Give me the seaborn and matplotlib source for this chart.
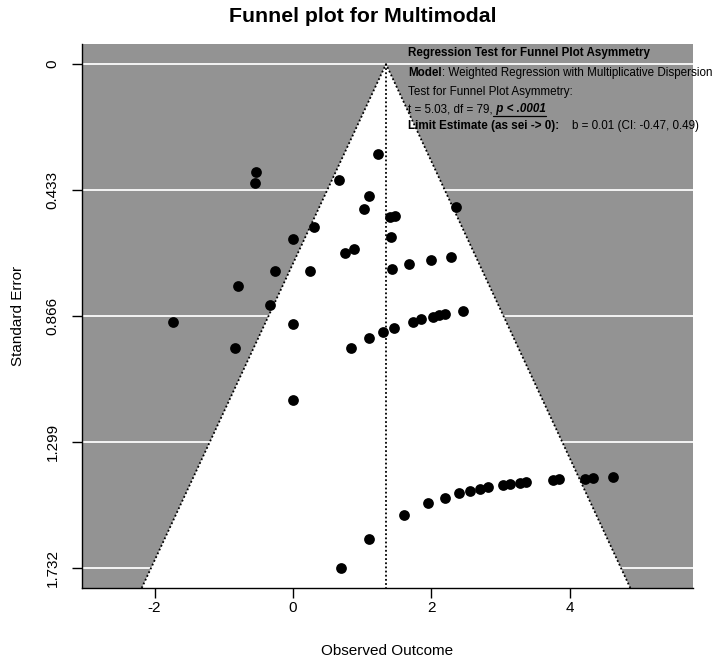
import matplotlib
matplotlib.use("Agg")
import matplotlib.pyplot as plt
import seaborn as sns
import pandas as pd

# ---- data ----
effect = [1.233, -0.530, -0.553, 0.665, 1.094, 1.030, 1.402, 1.470, 2.351, 0.308,
          -0.004, 1.416, 0.756, 0.881, -0.256, 0.250, 1.431, 1.681, 1.999, 2.279,
          -0.790, -0.337, -1.734, -0.004, -0.842, -0.004,
          0.842, 1.094, 1.296, 1.464, 1.730, 1.845, 2.027, 2.105, 2.192, 2.452,
          1.604, 1.947, 2.192, 2.395, 2.558, 2.698, 2.822, 3.035, 3.132, 3.285,
          3.363, 3.753, 3.840, 4.224, 4.331, 4.624, 1.094, 0.689]
sei = [0.309, 0.372, 0.408, 0.400, 0.454, 0.497, 0.526, 0.522, 0.493, 0.561,
       0.602, 0.596, 0.648, 0.634, 0.712, 0.712, 0.703, 0.688, 0.674, 0.663,
       0.763, 0.828, 0.885, 0.893, 0.976, 1.155,
       0.976, 0.943, 0.921, 0.906, 0.885, 0.878, 0.868, 0.864, 0.859, 0.850,
       1.550, 1.510, 1.491, 1.476, 1.467, 1.460, 1.455, 1.448, 1.444, 1.440,
       1.438, 1.430, 1.428, 1.425, 1.424, 1.421, 1.631, 1.731]
center_estimate = 1.344
ytick_values = [0, 0.433, 0.866, 1.299, 1.732]
ytick_labels = ["0", "0.433", "0.866", "1.299", "1.732"]
xtick_values = [-2, 0, 2, 4]
xtick_labels = ["-2", "0", "2", "4"]
title = "Funnel plot for Multimodal"
xlabel = "Observed Outcome"
ylabel = "Standard Error"
annot_lines = [
    [("Regression Test for Funnel Plot Asymmetry", "bold", "normal", False)],
    [("Model", "bold", "normal", False), (": Weighted Regression with Multiplicative Dispersion", "normal", "normal", False)],
    [("Test for Funnel Plot Asymmetry:", "normal", "normal", False)],
    [("t = 5.03, df = 79,", "normal", "normal", False), (" p < .0001", "bold", "italic", True)],
    [("Limit Estimate (as sei -> 0):", "bold", "normal", False), ("    b = 0.01 (CI: -0.47, 0.49)", "normal", "normal", False)],
]

df = pd.DataFrame({"effect": effect, "sei": sei})

sns.set_theme(style="white")
plt.rcParams['font.family'] = ['Liberation Sans', 'DejaVu Sans']
plt.rcParams['text.color'] = 'black'
plt.rcParams['axes.labelcolor'] = 'black'
plt.rcParams['xtick.color'] = 'black'
plt.rcParams['ytick.color'] = 'black'

W, H = 714, 671
fig = plt.figure(figsize=(W / 100, H / 100), dpi=100)
left, right, top, bottom = 82, 693, 44, 588
ax = fig.add_axes([left / W, 1 - bottom / H, (right - left) / W, (bottom - top) / H])
grey = "#939393"
ax.set_facecolor(grey)
xlim = (-3.049, 5.78)
ylim = (1.801, -0.069)
ax.set_xlim(xlim)
ax.set_ylim(ylim)

for yv in ytick_values:
    ax.axhline(yv, color="#f4f4f4", lw=1.4, zorder=1)

ybot = ylim[0]
px = [center_estimate - 1.96 * ybot, center_estimate, center_estimate + 1.96 * ybot]
py = [ybot, 0, ybot]
ax.fill(px, py, color="white", zorder=2, lw=0)
ax.plot(px, py, ls=(0, (1.0, 1.3)), color="black", lw=1.3, zorder=3)
ax.plot([center_estimate, center_estimate], [0, ybot], ls=(0, (1.0, 1.3)), color="black", lw=1.3, zorder=3)

sns.scatterplot(data=df, x="effect", y="sei", color="black", s=60, edgecolor="black",
                linewidth=0, zorder=4, ax=ax, legend=False)

for s in ["top", "right"]:
    ax.spines[s].set_visible(False)
for s in ["left", "bottom"]:
    ax.spines[s].set_color("black")
    ax.spines[s].set_linewidth(1.0)

ax.set_xticks(xtick_values, xtick_labels)
ax.set_yticks(ytick_values, ytick_labels, rotation=90, va="center")
ax.tick_params(axis="both", direction="out", length=7, width=1, colors="black",
               labelsize=11, bottom=True, left=True)
ax.tick_params(axis="y", pad=9)
ax.tick_params(axis="x", pad=2)
ax.set_xlabel(xlabel, fontsize=11, labelpad=21)
ax.set_ylabel(ylabel, fontsize=11, labelpad=15)
ax.grid(False)

fig.text(363 / W, 1 - 17 / H, title, ha="center", va="center", fontsize=15.3,
         fontweight="bold", color="black")

# annotation block
fig.canvas.draw()
renderer = fig.canvas.get_renderer()
line_y = [53, 73, 92, 109, 126]
x0 = 408
fs = 8.4
for ly, segs in zip(line_y, annot_lines):
    xcur = x0
    for txt, weight, style, underline in segs:
        t = fig.text(xcur / W, 1 - ly / H, txt, ha="left", va="center", fontsize=fs,
                     fontweight=weight, fontstyle=style, color="black")
        bb = t.get_window_extent(renderer)
        if underline:
            yline = (bb.y0 - 0.5) / H
            fig.add_artist(plt.Line2D([bb.x0 / W, bb.x1 / W], [yline, yline],
                                      transform=fig.transFigure, color="black", lw=0.9))
        xcur = bb.x1

fig.savefig("out.png", dpi=100)
